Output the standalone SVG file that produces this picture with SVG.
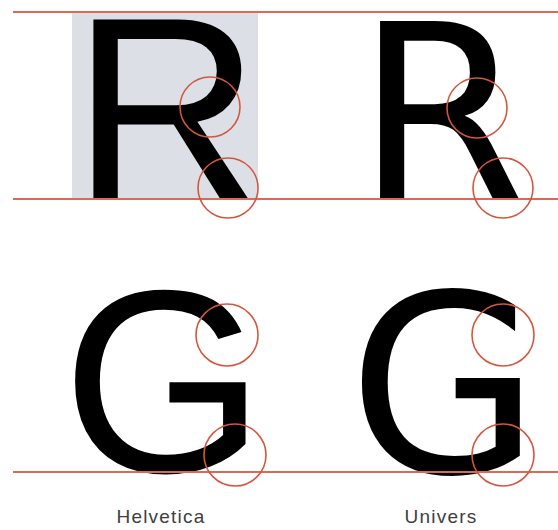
<svg xmlns="http://www.w3.org/2000/svg" width="558" height="530" viewBox="0 0 558 530">
<style>
.rule{stroke:#db6a55;stroke-width:2;fill:none}
.ring{stroke:#d2573f;stroke-width:1.6;fill:none}
.glyph{fill:#000}
.helv{font-family:"Liberation Sans",Arial,sans-serif}
.univ{font-family:"DejaVu Sans",sans-serif}
.label{font-family:"Liberation Sans",Arial,sans-serif;font-size:19px;letter-spacing:1.2px;fill:#404040;text-anchor:middle}
</style>
<rect width="558" height="530" fill="#fff"/>
<g id="helvetica-box"><rect x="72" y="12" width="186" height="187" fill="#dcdfe6"/></g>
<g id="helvetica-R"><text class="glyph helv" x="72" y="199" font-size="261">R</text></g>
<g id="univers-R"><text class="glyph univ" x="356" y="199" font-size="245">R</text></g>
<g id="helvetica-G"><text class="glyph helv" x="62" y="472" font-size="261">G</text></g>
<g id="univers-G"><text class="glyph univ" x="348" y="472" font-size="248">G</text></g>
<g id="rules">
<line class="rule" x1="13" y1="12" x2="558" y2="12"/>
<line class="rule" x1="13" y1="199" x2="558" y2="199"/>
<line class="rule" x1="13" y1="472" x2="558" y2="472"/>
</g>
<g id="circles">
<circle class="ring" cx="210" cy="107" r="30"/>
<circle class="ring" cx="228" cy="188" r="30"/>
<circle class="ring" cx="477" cy="108" r="30"/>
<circle class="ring" cx="503" cy="188" r="30"/>
<circle class="ring" cx="227" cy="335" r="31"/>
<circle class="ring" cx="235" cy="455" r="31"/>
<circle class="ring" cx="503" cy="335" r="31"/>
<circle class="ring" cx="503" cy="455" r="31"/>
</g>
<g id="labels">
<text class="label" x="161" y="523">Helvetica</text>
<text class="label" x="441" y="523">Univers</text>
</g>
</svg>
